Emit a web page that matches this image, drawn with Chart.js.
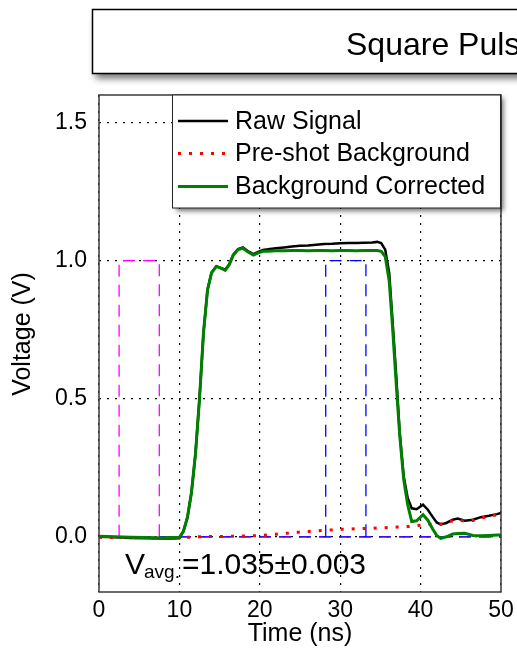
<!DOCTYPE html>
<html lang="en">
<head>
<meta charset="UTF-8" />
<title>Square Pulse</title>
<script src="https://cdn.jsdelivr.net/npm/chart.js"></script>
<style>
  html, body { margin: 0; padding: 0; background: #fff; }
</style>
</head>
<body>
<canvas id="pulse" width="517" height="649"></canvas>
<script>
  // time axis (ns), denser where the signal moves fast
  const timeNs = [0, 2, 4, 6, 8, 9, 10,
    10.5, 11, 11.5, 12, 12.5, 13, 13.5, 14,
    14.6, 15.2, 15.7, 16.2, 16.7, 17.3, 17.9, 18.5, 19.2, 19.8, 20.4,
    21, 22, 23, 24, 25, 26, 27, 28, 29, 30, 31, 32, 33, 34,
    34.6, 35.1, 35.6, 36.1, 36.5, 37, 37.4, 37.9, 38.4, 38.9, 39.5,
    40.3, 40.9, 41.5, 42, 42.5, 43.2, 44, 44.6, 45.5, 46.5, 47.5, 48.5, 49.5, 50];

  const rawSignal = [0.000, -0.002, -0.004, -0.005, -0.006, -0.006, -0.005,
    0.02, 0.07, 0.16, 0.30, 0.50, 0.74, 0.895, 0.957,
    0.980, 0.973, 0.967, 0.987, 1.022, 1.042, 1.048, 1.035, 1.024, 1.032, 1.039,
    1.041, 1.045, 1.048, 1.051, 1.054, 1.055, 1.058, 1.060, 1.061, 1.063, 1.064, 1.064, 1.065, 1.066,
    1.068, 1.064, 1.040, 0.955, 0.786, 0.569, 0.376, 0.218, 0.140, 0.103, 0.100,
    0.116, 0.098, 0.072, 0.052, 0.045, 0.050, 0.062, 0.066, 0.058, 0.062, 0.071, 0.076, 0.082, 0.086];

  const preshotBackground = [-0.002, -0.003, -0.003, -0.003, -0.003, -0.003, -0.003,
    -0.003, -0.002, -0.001, 0.000, 0.000, 0.000, 0.001, 0.001,
    0.001, 0.001, 0.002, 0.002, 0.002, 0.002, 0.003, 0.003, 0.004, 0.004, 0.005,
    0.007, 0.009, 0.012, 0.014, 0.017, 0.019, 0.021, 0.023, 0.025, 0.027, 0.028, 0.029, 0.030, 0.031,
    0.032, 0.032, 0.033, 0.034, 0.034, 0.035, 0.035, 0.036, 0.037, 0.038, 0.040,
    0.043, 0.045, 0.046, 0.047, 0.046, 0.050, 0.058, 0.062, 0.056, 0.059, 0.068, 0.073, 0.080, 0.083];

  const bgCorrected = [0.002, 0.000, -0.002, -0.003, -0.004, -0.003, -0.002,
    0.02, 0.07, 0.16, 0.30, 0.50, 0.74, 0.895, 0.956,
    0.979, 0.972, 0.965, 0.985, 1.020, 1.040, 1.045, 1.032, 1.020, 1.028, 1.034,
    1.034, 1.036, 1.036, 1.037, 1.037, 1.036, 1.037, 1.037, 1.036, 1.037, 1.037, 1.036, 1.037, 1.037,
    1.037, 1.034, 1.015, 0.925, 0.765, 0.540, 0.370, 0.207, 0.115, 0.055, 0.058,
    0.080, 0.060, 0.028, 0.005, -0.006, 0.000, 0.010, 0.012, 0.013, 0.005, 0.004, 0.005, 0.006, 0.006];

  // averaging windows (ns) and their drawn height (V)
  const preshotWindow = [2.5, 7.5];
  const shotWindow = [28.2, 33.2];
  const windowLevel = 1.0;

  const xTicks = [0, 10, 20, 30, 40, 50];
  const yTicks = [0, 0.5, 1.0, 1.5];
  const avgLabel = ['V', 'avg.', '=1.035\u00b10.003'];
  const titleText = 'Square Pulse';

  const FONT = '"Liberation Sans", Arial, Helvetica, sans-serif';

  const pts = ys => timeNs.map((t, i) => ({ x: t, y: ys[i] }));

  // rectangle for a window plus a baseline at zero across the whole axis
  function windowPath(win) {
    return [
      { x: win[0], y: 0 }, { x: win[0], y: windowLevel },
      { x: win[1], y: windowLevel }, { x: win[1], y: 0 },
      { x: win[1], y: null },
      { x: xTicks[0], y: 0 }, { x: xTicks[xTicks.length - 1], y: 0 }
    ];
  }

  const decor = {
    id: 'decor',
    beforeDraw(chart) {
      const ctx = chart.ctx;
      ctx.save();
      ctx.fillStyle = '#fff';
      ctx.fillRect(0, 0, chart.width, chart.height);
      ctx.restore();
    },
    afterDraw(chart) {
      const { ctx, chartArea: a } = chart;
      ctx.save();

      // plot frame
      ctx.strokeStyle = '#3a3a3a';
      ctx.lineWidth = 1.5;
      ctx.strokeRect(a.left, a.top, a.right - a.left, a.bottom - a.top);

      // y axis title
      ctx.save();
      ctx.translate(23, 334);
      ctx.rotate(-Math.PI / 2);
      ctx.fillStyle = '#000';
      ctx.font = '25px ' + FONT;
      ctx.textAlign = 'center';
      ctx.textBaseline = 'middle';
      ctx.fillText('Voltage (V)', 0, 0);
      ctx.restore();

      // V_avg annotation
      ctx.fillStyle = '#000';
      ctx.textAlign = 'left';
      ctx.textBaseline = 'alphabetic';
      ctx.font = '30px ' + FONT;
      let x = 125;
      ctx.fillText(avgLabel[0], x, 574);
      x += ctx.measureText(avgLabel[0]).width - 1;
      ctx.font = '19px ' + FONT;
      ctx.fillText(avgLabel[1], x, 578);
      x += ctx.measureText(avgLabel[1]).width + 2;
      ctx.font = '30px ' + FONT;
      ctx.fillText(avgLabel[2], x, 574);

      // legend box
      const lx = 172.5, ly = 95, lw = 328, lh = 113;
      ctx.save();
      ctx.shadowColor = 'rgba(0,0,0,0.55)';
      ctx.shadowBlur = 5;
      ctx.shadowOffsetX = 3;
      ctx.shadowOffsetY = 3;
      ctx.fillStyle = '#fff';
      ctx.fillRect(lx, ly, lw, lh);
      ctx.restore();
      ctx.strokeStyle = '#222';
      ctx.lineWidth = 1;
      ctx.strokeRect(lx, ly, lw, lh);

      const rows = [121, 153.5, 186.5];
      const shown = chart.data.datasets.filter(d => d.label);
      shown.forEach((d, i) => {
        const y = rows[i];
        ctx.save();
        ctx.strokeStyle = d.borderColor;
        ctx.lineWidth = d.borderWidth;
        ctx.setLineDash(d.borderDash || []);
        ctx.beginPath();
        ctx.moveTo(178, y);
        ctx.lineTo(228, y);
        ctx.stroke();
        ctx.restore();
        ctx.fillStyle = '#000';
        ctx.font = '25px ' + FONT;
        ctx.textBaseline = 'middle';
        ctx.fillText(d.label, 235, y + 1);
      });

      // title box (runs off the right edge)
      ctx.save();
      ctx.shadowColor = 'rgba(0,0,0,0.55)';
      ctx.shadowBlur = 7;
      ctx.shadowOffsetX = 2;
      ctx.shadowOffsetY = 5;
      ctx.fillStyle = '#fff';
      ctx.fillRect(92.5, 9.5, 500, 64);
      ctx.restore();
      ctx.strokeStyle = '#000';
      ctx.lineWidth = 1.5;
      ctx.strokeRect(92.5, 9.5, 500, 64);
      ctx.fillStyle = '#000';
      ctx.font = '32px ' + FONT;
      ctx.textBaseline = 'alphabetic';
      ctx.fillText(titleText, 346, 55);

      ctx.restore();
    }
  };

  new Chart(document.getElementById('pulse'), {
    type: 'scatter',
    data: {
      datasets: [
        {
          label: 'Raw Signal',
          data: pts(rawSignal),
          showLine: true,
          borderColor: '#000000',
          borderWidth: 2.5,
          pointRadius: 0,
          order: 3
        },
        {
          label: 'Pre-shot Background',
          data: pts(preshotBackground),
          showLine: true,
          borderColor: '#ff0000',
          borderWidth: 3,
          borderDash: [3, 8],
          pointRadius: 0,
          order: 2
        },
        {
          label: 'Background Corrected',
          data: pts(bgCorrected),
          showLine: true,
          borderColor: '#008000',
          borderWidth: 3,
          pointRadius: 0,
          order: 1
        },
        {
          data: windowPath(preshotWindow),
          showLine: true,
          spanGaps: false,
          borderColor: '#ff00ff',
          borderWidth: 1.3,
          borderDash: [12, 8],
          pointRadius: 0,
          order: 5
        },
        {
          data: windowPath(shotWindow),
          showLine: true,
          spanGaps: false,
          borderColor: '#0000ff',
          borderWidth: 1.3,
          borderDash: [12, 8],
          pointRadius: 0,
          order: 4
        }
      ]
    },
    options: {
      responsive: false,
      animation: false,
      layout: { padding: { top: 95, right: 16, bottom: 0, left: 0 } },
      plugins: {
        legend: { display: false },
        tooltip: { enabled: false }
      },
      scales: {
        x: {
          type: 'linear',
          min: 0,
          max: 50,
          afterBuildTicks: axis => { axis.ticks = xTicks.map(v => ({ value: v })); },
          afterFit: axis => {
            axis.height = 57;
            axis.paddingLeft = 0;
            axis.paddingRight = 0;
          },
          grid: { color: '#000', lineWidth: 1.2, drawTicks: false },
          border: { display: false, dash: [2, 6] },
          ticks: { color: '#000', padding: 5, font: { family: FONT, size: 23 } },
          title: {
            display: true,
            text: 'Time (ns)',
            color: '#000',
            font: { family: FONT, size: 25 },
            padding: { top: 0, bottom: 0 }
          }
        },
        y: {
          min: -0.2,
          max: 1.6,
          afterBuildTicks: axis => { axis.ticks = yTicks.map(v => ({ value: v })); },
          afterFit: axis => {
            axis.width = 99;
            axis.paddingTop = 0;
            axis.paddingBottom = 0;
          },
          grid: { color: '#000', lineWidth: 1.2, drawTicks: false },
          border: { display: false, dash: [2, 6] },
          ticks: {
            color: '#000',
            padding: 12,
            font: { family: FONT, size: 23 },
            callback: v => v.toFixed(1)
          }
        }
      }
    },
    plugins: [decor]
  });
</script>
</body>
</html>
